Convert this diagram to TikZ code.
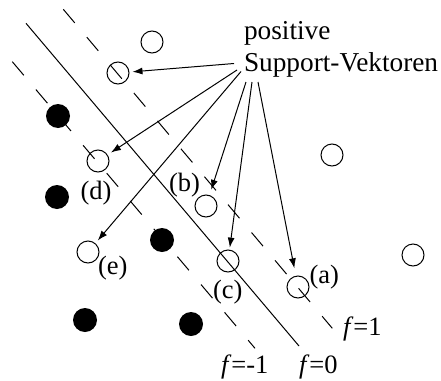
\documentclass[tikz,border=0pt]{standalone}
\usepackage{fontspec}
\setmainfont{Liberation Serif}
\usetikzlibrary{arrows.meta}
\begin{document}
\begin{tikzpicture}[x=1pt,y=-1pt,
  every node/.style={font=\fontsize{26.5}{32}\selectfont},
  posv/.style={circle,draw,line width=1pt,minimum size=22pt,inner sep=0pt,outer sep=0pt},
  negv/.style={circle,fill=black,minimum size=24pt,inner sep=0pt,outer sep=0pt},
  conn/.style={line width=1pt,-{Latex[length=10pt,width=7pt]}},
  margin/.style={line width=1pt,dash pattern=on 17.8pt off 18.7pt},
  hyper/.style={line width=1pt},
  lbl/.style={anchor=base west,inner sep=0pt,outer sep=0pt},
  big/.style={font=\fontsize{27.3}{32}\selectfont}
]
\useasboundingbox (0,0) rectangle (441,380);
% lines
\coordinate (u1) at (63.3,9.3);  \coordinate (u2) at (332.3,328.3);
\coordinate (m1) at (26,23.3);   \coordinate (m2) at (299,346);
\coordinate (l1) at (12.3,61.7); \coordinate (l2) at (255,348.3);
\draw[margin] (u1) -- (u2);
\draw[hyper]  (m1) -- (m2);
\draw[margin] (l1) -- (l2);
% positive examples
\node[posv] (t1) at (152,42) {};
\node[posv] (c2) at (118,73) {};
\node[posv] (cd) at (98,161) {};
\node[posv] (cb) at (206,206) {};
\node[posv] (cc) at (228,261) {};
\node[posv] (ca) at (298,287) {};
\node[posv] (ce) at (88,252) {};
\node[posv] (r1) at (332,155) {};
\node[posv] (r2) at (413,255) {};
% negative examples
\node[negv] (n1) at (58,116) {};
\node[negv] (n2) at (57,197) {};
\node[negv] (n3) at (162,240) {};
\node[negv] (n4) at (85,320) {};
\node[negv] (n5) at (191,324) {};
% text
\node[lbl,big] (tpos) at (244,39.5) {positive};
\node[lbl,big] (tsv) at (244,71.5) {Support-Vektoren};
\node[lbl] (la) at (309.5,283) {(a)};
\node[lbl] (lb) at (169,191) {(b)};
\node[lbl] (lc) at (213,298.5) {(c)};
\node[lbl] (ld) at (80.5,199) {(d)};
\node[lbl] (le) at (98,274.6) {(e)};
\node[lbl] (fp) at (343,335) {\textit{f}=1};
\node[lbl] (fm) at (221,373.3) {\textit{f}=-1};
\node[lbl] (fz) at (299,373.3) {\textit{f}=0};
% arrows
\coordinate (s1) at (234,63.5);
\coordinate (s2) at (237,70);
\coordinate (s3) at (241,71.5);
\coordinate (s4) at (246,82);
\coordinate (s5) at (252,82);
\coordinate (s6) at (258,82);
\draw[conn,shorten >=3.5pt] (s1) -- (c2);
\draw[conn,shorten >=4.5pt] (s2) -- (cd);
\draw[conn,shorten >=4pt] (s3) -- (ce);
\draw[conn,shorten >=6pt] (s4) -- (cb);
\draw[conn,shorten >=2.5pt] (s5) -- (cc);
\draw[conn,shorten >=8pt] (s6) -- (ca);
\end{tikzpicture}
\end{document}
